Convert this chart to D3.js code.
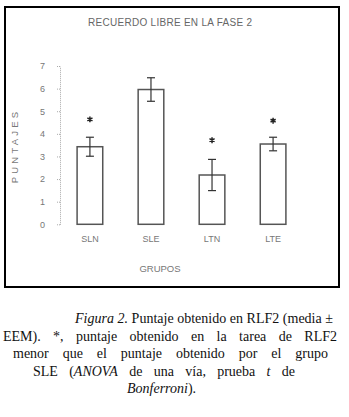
<!DOCTYPE html>
<html>
<head>
<meta charset="utf-8">
<script src="https://cdn.jsdelivr.net/npm/d3@7"></script>
<style>
  body { margin: 0; background: #fff; }
  .axis text { font-family: Arial, "Liberation Sans", sans-serif; font-size: 9px; fill: #777; }
</style>
</head>
<body>
<div id="chart"></div>
<script>
// data
const groups = ['SLN', 'SLE', 'LTN', 'LTE'];
const means = [3.43, 5.96, 2.18, 3.55];
const errors = [0.42, 0.52, 0.69, 0.30];
const starAt = [4.64, null, 3.72, 4.58];   // asterisk height (score units)
const yTicks = [0, 1, 2, 3, 4, 5, 6, 7];

const title = 'RECUERDO LIBRE EN LA FASE 2';
const xTitle = 'GRUPOS';
const yTitle = 'PUNTAJES';

const width = 349, height = 417;

const svg = d3.select('#chart').append('svg')
    .attr('width', width)
    .attr('height', height);

svg.append('rect')
    .attr('width', width).attr('height', height)
    .attr('fill', '#fff');

// frame around the chart
svg.append('rect')
    .attr('x', 5).attr('y', 7)
    .attr('width', 334).attr('height', 280)
    .attr('fill', 'none')
    .attr('stroke', '#000')
    .attr('stroke-width', 2);

// scales
const xScale = d3.scaleBand()
    .domain(groups)
    .range([60, 303])
    .paddingInner(0.58)
    .paddingOuter(0.28);

const yScale = d3.scaleLinear()
    .domain([0, 7])
    .range([224.3, 66]);

// y axis (dotted grey line, small ticks)
const yAxisG = svg.append('g')
    .attr('class', 'axis')
    .attr('transform', 'translate(60,0)')
    .call(d3.axisLeft(yScale).tickValues(yTicks).tickFormat(d3.format('d'))
        .tickSize(4).tickPadding(11).tickSizeOuter(0));
yAxisG.select('.domain')
    .attr('stroke', '#aaa')
    .attr('stroke-dasharray', '1,1');
yAxisG.selectAll('.tick line')
    .attr('stroke', '#aaa')
    .attr('stroke-dasharray', '1,1');

// x labels only
const xAxisG = svg.append('g')
    .attr('class', 'axis')
    .attr('transform', 'translate(0,224.3)')
    .call(d3.axisBottom(xScale).tickSize(0).tickPadding(11));
xAxisG.select('.domain').remove();

// bars
svg.selectAll('.bar')
    .data(groups)
  .join('rect')
    .attr('class', 'bar')
    .attr('x', d => xScale(d))
    .attr('y', (d, i) => yScale(means[i]))
    .attr('width', xScale.bandwidth())
    .attr('height', (d, i) => yScale(0) - yScale(means[i]))
    .attr('fill', '#fff')
    .attr('stroke', '#555')
    .attr('stroke-width', 1.5);

// error bars
const capW = 4;
const err = svg.selectAll('.err')
    .data(groups)
  .join('g')
    .attr('class', 'err')
    .attr('stroke', '#333')
    .attr('stroke-width', 1.2);
err.append('line')
    .attr('x1', d => xScale(d) + xScale.bandwidth() / 2)
    .attr('x2', d => xScale(d) + xScale.bandwidth() / 2)
    .attr('y1', (d, i) => yScale(means[i] + errors[i]))
    .attr('y2', (d, i) => yScale(means[i] - errors[i]));
err.append('line')
    .attr('x1', d => xScale(d) + xScale.bandwidth() / 2 - capW)
    .attr('x2', d => xScale(d) + xScale.bandwidth() / 2 + capW)
    .attr('y1', (d, i) => yScale(means[i] + errors[i]))
    .attr('y2', (d, i) => yScale(means[i] + errors[i]));
err.append('line')
    .attr('x1', d => xScale(d) + xScale.bandwidth() / 2 - capW)
    .attr('x2', d => xScale(d) + xScale.bandwidth() / 2 + capW)
    .attr('y1', (d, i) => yScale(means[i] - errors[i]))
    .attr('y2', (d, i) => yScale(means[i] - errors[i]));

// significance asterisks
svg.selectAll('.star')
    .data(groups.filter((d, i) => starAt[i] !== null))
  .join('path')
    .attr('class', 'star')
    .attr('d', d3.symbol(d3.symbolAsterisk, 24))
    .attr('transform', d => `translate(${xScale(d) + xScale.bandwidth() / 2},${yScale(starAt[groups.indexOf(d)])})`)
    .attr('stroke', '#222')
    .attr('stroke-width', 1.5);

// titles
svg.append('text')
    .attr('x', 170).attr('y', 26)
    .attr('text-anchor', 'middle')
    .attr('textLength', 164)
    .style('font-family', 'Arial, "Liberation Sans", sans-serif')
    .style('font-size', '10px')
    .style('fill', '#666')
    .text(title);

svg.append('text')
    .attr('x', 160).attr('y', 271.5)
    .attr('text-anchor', 'middle')
    .style('font-family', 'Arial, "Liberation Sans", sans-serif')
    .style('font-size', '9.5px')
    .style('fill', '#777')
    .text(xTitle);

svg.append('text')
    .attr('transform', 'translate(18,146) rotate(-90)')
    .attr('text-anchor', 'middle')
    .style('font-family', 'Arial, "Liberation Sans", sans-serif')
    .style('font-size', '9.5px')
    .style('letter-spacing', '3.2px')
    .style('fill', '#777')
    .text(yTitle);

// caption below the frame; w = line width to justify to (null = natural)
const captionLines = [
  { x: 75, y: 323, w: 258, parts: [['Figura 2.', true], [' Puntaje obtenido en RLF2 (media \u00b1', false]] },
  { x: 3, y: 340.5, w: 334, parts: [['EEM). *, puntaje obtenido en la tarea de RLF2', false]] },
  { x: 13, y: 358, w: 315, parts: [['menor que el puntaje obtenido por el grupo', false]] },
  { x: 33, y: 375.5, w: 262, parts: [['SLE (', false], ['ANOVA', true], [' de una v\u00eda, prueba ', false], ['t', true], [' de', false]] },
  { x: 127, y: 393, w: null, parts: [['Bonferroni', true], [').', false]] }
];

const cap = svg.selectAll('.caption')
    .data(captionLines)
  .join('text')
    .attr('class', 'caption')
    .attr('x', d => d.x)
    .attr('y', d => d.y)
    .style('font-family', '"Liberation Serif", "Times New Roman", serif')
    .style('font-size', '14px')
    .style('fill', '#111');
cap.selectAll('tspan')
    .data(d => d.parts)
  .join('tspan')
    .style('font-style', d => d[1] ? 'italic' : 'normal')
    .text(d => d[0]);

// stretch word gaps so justified lines reach their width
cap.each(function(d) {
  if (!d.w) return;
  const natural = this.getComputedTextLength();
  const gaps = d.parts.map(p => p[0]).join('').split(' ').length - 1;
  if (gaps > 0) d3.select(this).style('word-spacing', ((d.w - natural) / gaps) + 'px');
});
</script>
</body>
</html>
